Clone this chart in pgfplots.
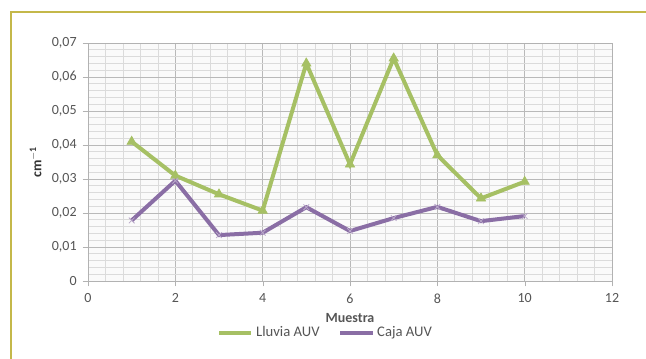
\documentclass[border=0pt]{standalone}
\usepackage{pgfplots}
\pgfplotsset{compat=1.18}
\usepackage{fontspec}
\setmainfont{Carlito}
\definecolor{lluvia}{RGB}{166,192,100}
\definecolor{caja}{RGB}{138,110,165}
\definecolor{frameol}{RGB}{196,184,74}
\definecolor{ticktxt}{RGB}{85,85,85}
\begin{document}
\begin{tikzpicture}
\useasboundingbox (0,0) rectangle (484.5pt,269.25pt);
\draw[frameol, line width=1.2pt] (8.25pt,0) -- (8.25pt,260.25pt) -- (484.5pt,260.25pt);
\begin{axis}[
  at={(66pt,58.5pt)}, anchor=south west,
  scale only axis, width=393pt, height=178.5pt,
  xmin=0, xmax=12, ymin=0, ymax=0.07,
  xtick={0,2,...,12}, ytick={0,0.01,0.02,0.03,0.04,0.05,0.06,0.07},
  yticklabels={0,{0,01},{0,02},{0,03},{0,04},{0,05},{0,06},{0,07}},
  minor x tick num=4, minor y tick num=4,
  grid=both,
  major grid style={gray!55, line width=0.6pt},
  minor grid style={gray!28, line width=0.5pt},
  axis background/.style={fill=gray!4},
  axis line style={gray!60, line width=0.7pt},
  tick style={gray!60}, minor tick length=0pt, major tick length=4pt,
  tick align=outside, xtick pos=bottom, ytick pos=left,
  /pgf/number format/assume math mode=true,
  scaled y ticks=false,
  ticklabel style={font=\fontsize{10.5}{12}\selectfont, text=ticktxt},
  yticklabel style={xshift=-1pt},
  xticklabel style={yshift=-2pt},
  xlabel={\textbf{Muestra}},
  xlabel style={font=\fontsize{10.5}{12}\selectfont, text=ticktxt, at={(axis description cs:0.5,-0.115)}, anchor=north},
  ylabel={\textbf{cm$^{\mathbf{-1}}$}},
  ylabel style={font=\fontsize{10.5}{12}\selectfont, text=black!80, at={(axis description cs:-0.1,0.5)}, anchor=center},
  legend style={draw=none, fill=none, font=\fontsize{11}{12}\selectfont, text=ticktxt,
    at={(axis description cs:0.454,-0.218)}, anchor=center,
    /tikz/every odd column/.append style={column sep=0pt},
    /tikz/every even column/.append style={column sep=12pt},
    inner sep=0pt},
  legend columns=2,
  legend cell align=left,
  legend image code/.code={\draw[#1, mark=none] (0cm,0cm) -- (0.85cm,0cm);},
]
\addplot[lluvia, line width=3pt, mark=triangle*, mark size=4pt, mark options={solid, line width=0.5pt}]
  coordinates {(1,0.041) (2,0.031) (3,0.0255) (4,0.0207) (5,0.064) (6,0.0343) (7,0.0655) (8,0.037) (9,0.0243) (10,0.0292)};
\addlegendentry{Lluvia AUV}
\addplot[caja, line width=3pt, mark=x, mark size=3pt, mark options={solid, line width=0.6pt, draw=caja!60}]
  coordinates {(1,0.0178) (2,0.0295) (3,0.0135) (4,0.0142) (5,0.0217) (6,0.0147) (7,0.0185) (8,0.0218) (9,0.0176) (10,0.0191)};
\addlegendentry{Caja AUV}
\end{axis}
\end{tikzpicture}
\end{document}
